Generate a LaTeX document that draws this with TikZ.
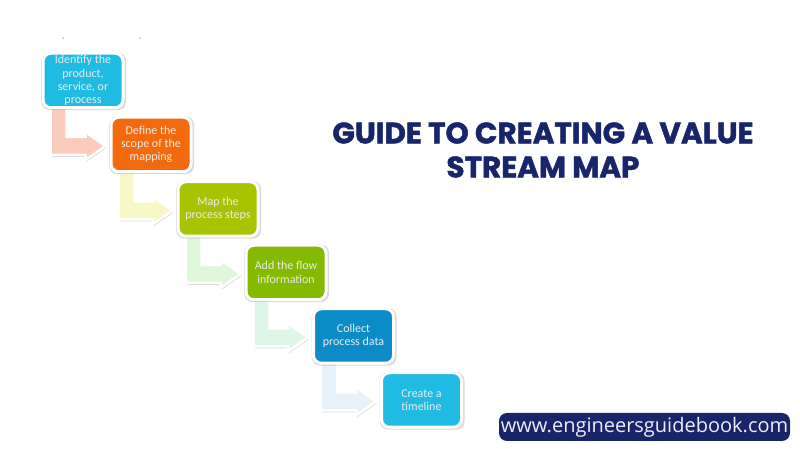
\documentclass[tikz,border=0pt]{standalone}
\usepackage{fontspec}
\usepackage{xcolor}
\usetikzlibrary{shadows,calc,backgrounds}
\setmainfont{Carlito}
\newfontfamily\titlefont[BoldFeatures={FakeBold=1.6}]{Poppins}
\newfontfamily\urlfont{Open Sans}
\definecolor{navy}{HTML}{18256B}
\definecolor{cyanbox}{HTML}{20BBE3}
\definecolor{orangebox}{HTML}{F26A0D}
\definecolor{limebox}{HTML}{A8C400}
\definecolor{greenbox}{HTML}{84BA00}
\definecolor{bluebox}{HTML}{0B8CC6}
\definecolor{peach}{HTML}{FACBBA}
\definecolor{paleyellow}{HTML}{F7F7C8}
\definecolor{palegreen}{HTML}{DFF7D9}
\definecolor{palemint}{HTML}{DDF6E7}
\definecolor{paleblue}{HTML}{E6F1F9}
\tikzstyle{stage}=[rectangle,rounded corners=8pt,draw=white,line width=3pt,minimum width=80pt,minimum height=54.5pt,inner sep=0pt,align=center,text=white!92!black,font=\fontsize{12}{13.3}\selectfont,drop shadow={shadow scale=1.06,shadow xshift=.6pt,shadow yshift=-.8pt,opacity=.3}]
\tikzstyle{elbow}=[draw=white,line width=2.5pt,line join=miter,drop shadow={shadow xshift=1pt,shadow yshift=-1.8pt,opacity=.3}]
\tikzstyle{speck}=[circle,fill=black!70,inner sep=0pt,minimum size=1.2pt]
% elbow arrow from the foot of #1 to the left side of #2
\newcommand{\elbowarrow}[3]{
\draw[elbow,fill=#3] let \p1=(#1.south west), \p2=(#2.west) in
 (\x1+9,\y1+4) -- (\x1+25,\y1+4) -- (\x1+25,\y2+7.5) -- (\x2-24,\y2+7.5) -- (\x2-24,\y2+12.5) -- (\x2-4,\y2-1.5) -- (\x2-24,\y2-15.5) -- (\x2-24,\y2-10.5) -- (\x1+9,\y2-10.5) -- cycle;
}

\begin{document}
\begin{tikzpicture}[x=1pt,y=1pt]
\useasboundingbox (0,0) rectangle (800,449);
\node[speck] (dota) at (63,411) {};
\node[speck] (dotb) at (140,411) {};

\node[stage,fill=cyanbox] (identify) at (83,368.5) {Identify the\\product,\\service, or\\process};
\node[stage,fill=orangebox] (define) at (151,304.5) {Define the\\scope of the\\mapping};
\node[stage,fill=limebox] (map) at (218,240) {Map the\\process steps};
\node[stage,fill=greenbox] (flow) at (286,176.5) {Add the flow\\information};
\node[stage,fill=bluebox] (collect) at (353.5,113) {Collect\\process data};
\node[stage,fill=cyanbox] (timeline) at (421.5,49) {Create a\\timeline};

\begin{pgfonlayer}{background}
\elbowarrow{identify}{define}{peach}
\elbowarrow{define}{map}{paleyellow}
\elbowarrow{map}{flow}{palegreen}
\elbowarrow{flow}{collect}{palemint}
\elbowarrow{collect}{timeline}{paleblue}
\end{pgfonlayer}

\node[text=navy,align=center,font=\titlefont\bfseries\fontsize{29.5}{34}\selectfont] (title) at (543,299) {GUIDE TO CREATING A VALUE\\STREAM MAP};
\node[fill=navy,rounded corners=8pt,minimum width=291pt,minimum height=28pt,inner sep=0pt,text=white!92!navy,font=\urlfont\fontsize{20}{24}\selectfont] (url) at (644.5,22) {www.engineersguidebook.com};
\end{tikzpicture}
\end{document}
